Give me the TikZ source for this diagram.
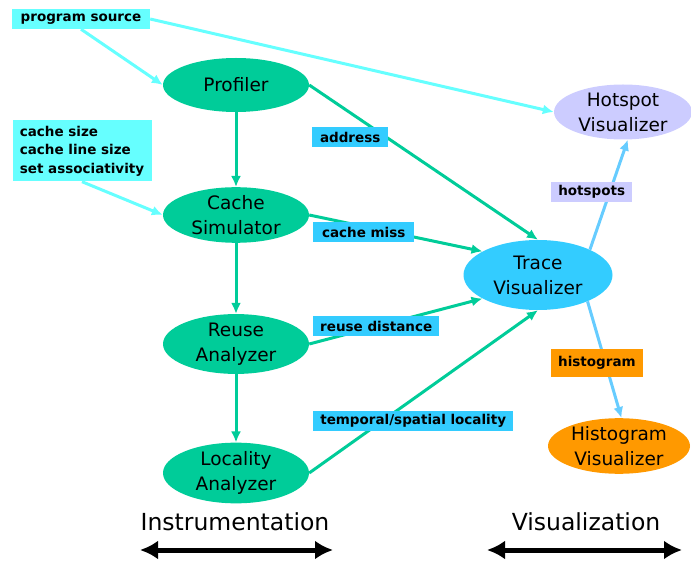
\documentclass[tikz,border=0pt]{standalone}
\usepackage{fontspec}
\setmainfont{DejaVu Sans}
\usepackage{tikz}
\usetikzlibrary{arrows, arrows.meta, shapes.geometric}

\definecolor{toolgreen}{HTML}{00CC99}
\definecolor{inputcyan}{HTML}{66FFFF}
\definecolor{traceblue}{HTML}{33CCFF}
\definecolor{viewblue}{HTML}{66CCFF}
\definecolor{hotlilac}{HTML}{CCCCFF}
\definecolor{historange}{HTML}{FF9900}

\begin{document}
\begin{tikzpicture}[x=1pt, y=-1pt,
    tool/.style={ellipse, fill=#1, inner sep=0pt, minimum width=146pt,
        minimum height=54pt, align=center, font=\fontsize{18.5}{25}\selectfont},
    tag/.style={fill=#1, inner xsep=7pt, inner ysep=0pt, minimum height=20pt,
        font=\bfseries\fontsize{13.5}{18.5}\selectfont},
    flow/.style={draw=#1, line width=3pt, -{Latex[length=11pt,width=10pt]}},
    span/.style={line width=5pt, {Latex[length=18pt,width=19pt]}-{Latex[length=18pt,width=19pt]}}]

    \useasboundingbox (0,0) rectangle (691,561);

    % Inputs
    \node[tag=inputcyan, minimum width=138pt] (src) at (81,19) {program source};
    \node[tag=inputcyan, align=left, minimum width=139pt, minimum height=61pt] (cfg) at (82,151)
        {cache size\\cache line size\\set associativity};

    % Instrumentation tools
    \node[tool=toolgreen] (prof) at (236,85) {Profiler};
    \node[tool=toolgreen] (cache) at (236,215) {Cache\\Simulator};
    \node[tool=toolgreen] (reuse) at (236,344) {Reuse\\Analyzer};
    \node[tool=toolgreen] (loc) at (236,473) {Locality\\Analyzer};

    % Visualizers
    \node[tool=traceblue, minimum width=149pt, minimum height=70pt] (trace) at (538,275) {Trace\\Visualizer};
    \node[tool=hotlilac, minimum width=138pt, minimum height=55pt] (hot) at (623,112) {Hotspot\\Visualizer};
    \node[tool=historange, minimum width=142pt, minimum height=55pt] (hist) at (619,446) {Histogram\\Visualizer};

    % Connectors
    \draw[flow=inputcyan] (src.south) -- (prof.west);
    \draw[flow=inputcyan] (src.east) -- (hot.west);
    \draw[flow=inputcyan] (cfg.south) -- (cache.west);
    \draw[flow=toolgreen] (prof) -- (cache);
    \draw[flow=toolgreen] (cache) -- (reuse);
    \draw[flow=toolgreen] (reuse) -- (loc);
    \draw[flow=toolgreen] (prof.east) -- (trace.north);
    \draw[flow=toolgreen] (cache.east) -- (trace.157);
    \draw[flow=toolgreen] (reuse.east) -- (trace.203);
    \draw[flow=toolgreen] (loc.east) -- (trace.south);
    \draw[flow=viewblue] (trace.26) -- (hot.-80);
    \draw[flow=viewblue] (trace.-28) -- (hist.85);

    % Connector labels
    \node[tag=traceblue, anchor=west, minimum width=76pt] (addr) at (312,137) {address};
    \node[tag=traceblue, anchor=west, minimum width=101pt] (miss) at (313,232) {cache miss};
    \node[tag=traceblue, anchor=west, minimum width=124pt] (dist) at (313,326) {reuse distance};
    \node[tag=traceblue, anchor=west, minimum width=200pt] (tsl) at (313,421) {temporal/spatial locality};
    \node[tag=hotlilac, anchor=west, minimum width=81pt] (spots) at (551,192) {hotspots};
    \node[tag=historange, anchor=west, minimum width=80pt, minimum height=28pt] (gram) at (551,363) {histogram};

    % Phases
    \node[font=\fontsize{23.5}{28}\selectfont] (instr) at (235,522) {Instrumentation};
    \node[font=\fontsize{23.5}{28}\selectfont] (visu) at (586,522) {Visualization};
    \coordinate (iL) at (140,550);
    \coordinate (iR) at (333,550);
    \coordinate (vL) at (487,550);
    \coordinate (vR) at (682,550);
    \draw[span] (iL) -- (iR);
    \draw[span] (vL) -- (vR);
\end{tikzpicture}
\end{document}
